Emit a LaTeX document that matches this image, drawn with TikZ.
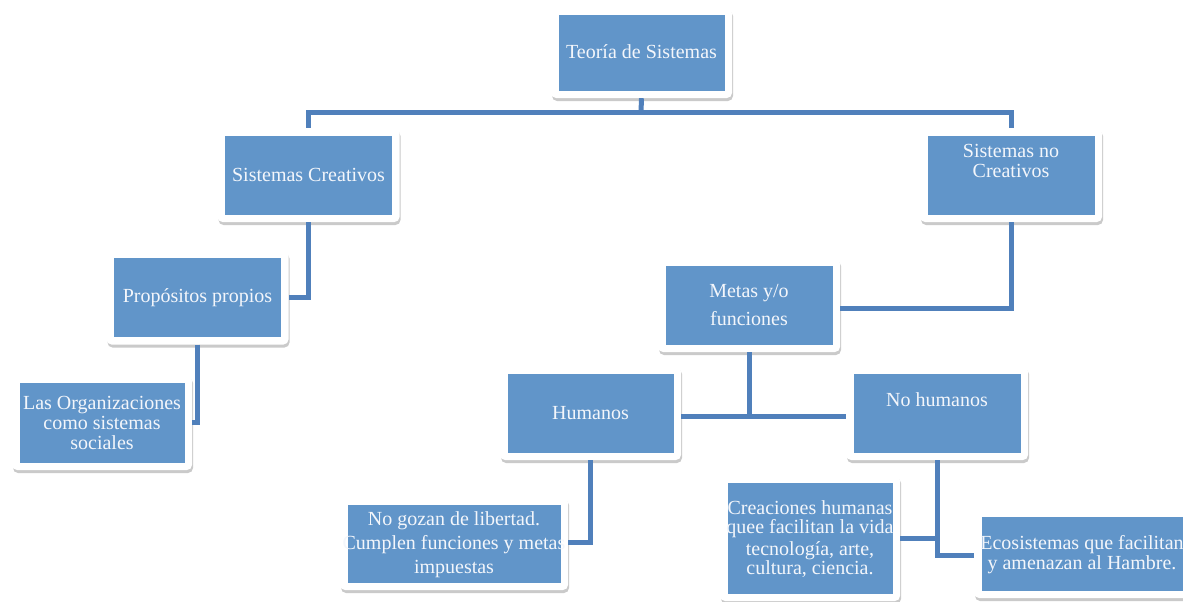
\documentclass[tikz,border=0pt]{standalone}
\usepackage{fontspec}
\setmainfont{Liberation Serif}
\usetikzlibrary{shadows}
\definecolor{boxblue}{RGB}{97,149,201}
\definecolor{linkblue}{RGB}{80,128,187}
\definecolor{txtwhite}{RGB}{243,246,251}
\tikzset{
  card/.style={draw=none, fill=white, rounded corners=5pt, inner sep=0pt,
    minimum width=182pt, minimum height=94pt,
    drop shadow={shadow xshift=1pt, shadow yshift=-3pt, opacity=0.35, fill=black!60},
    path picture={\fill[boxblue, sharp corners]
      ([shift={(7.5pt,-7.5pt)}]path picture bounding box.north west) rectangle
      ([shift={(-7.5pt,7.5pt)}]path picture bounding box.south east);}},
  txt/.style={text=txtwhite, align=center, inner sep=0pt, font=\fontsize{20}{20}\selectfont},
  conn/.style={draw=linkblue, line width=5pt}
}
\begin{document}
\begin{tikzpicture}[x=1pt,y=-1pt]
\useasboundingbox (0,0) rectangle (1183,602);
\begin{scope}
\clip (0,0) rectangle (1183,602);
\coordinate (bus) at (641,112);
\node[card, minimum width=181pt, minimum height=90pt] (ts) at (641.5,53) {};
\node[card] (sc) at (308.5,175) {};
\node[card] (snc) at (1011,175) {};
\node[card] (pp) at (197.5,297.5) {};
\node[card, minimum width=180pt, minimum height=95pt] (lo) at (102,422.5) {};
\node[card] (mf) at (749,305) {};
\node[card, minimum width=181pt] (hu) at (590.5,413) {};
\node[card] (nh) at (937,413) {};
\node[card, minimum width=228pt, minimum height=93pt] (ng) at (454,543.5) {};
\node[card, minimum width=180pt, minimum height=126pt] (cr) at (810,538) {};
\node[card, minimum width=216pt, minimum height=89pt] (eco) at (1082,553.5) {};

\draw[conn] (ts.south) -- (bus);
\draw[conn] (sc.north) |- (bus) -| (snc.north);
\draw[conn] (sc.south) |- (pp.east);
\draw[conn] (pp.south) |- (lo.east);
\draw[conn] (snc.south) |- ([yshift=-3pt]mf.east);
\draw[conn] (mf.south) -- ([yshift=-3pt]mf.south |- hu.east);
\draw[conn] ([yshift=-3pt]hu.east) -- ([yshift=-3pt]nh.west);
\draw[conn] (hu.south) |- ([yshift=1.5pt]ng.east);
\draw[conn] (nh.south) |- ([yshift=-1.5pt]eco.west);
\draw[conn] (cr.east) -- (cr.east -| nh.south);

\node[txt] (tts) at (641.5,52) {Teoría de Sistemas};
\node[txt] (tsc) at (308.5,175) {Sistemas Creativos};
\node[txt] (tsnc) at (1011,161) {Sistemas no\\Creativos};
\node[txt] (tpp) at (197.5,298) {Propósitos propios};
\node[txt] (tlo) at (102,423) {Las Organizaciones\\como sistemas\\sociales};
\node[txt, font=\fontsize{20}{28}\selectfont] (tmf) at (749,305) {Metas y/o\\funciones};
\node[txt] (thu) at (590.5,413) {Humanos};
\node[txt] (tnh) at (937,400) {No humanos};
\node[txt, font=\fontsize{20}{24}\selectfont] (tng) at (454,545) {No gozan de libertad.\\Cumplen funciones y metas\\impuestas};
\node[txt, font=\fontsize{20}{19.5}\selectfont] (tcr) at (810,539) {Creaciones humanas\\quee facilitan la vida \\[2pt]tecnología, arte,\\cultura, ciencia.};
\node[txt] (teco) at (1082,555) {Ecosistemas que facilitan\\y amenazan al Hambre.};
\end{scope}
\end{tikzpicture}
\end{document}
